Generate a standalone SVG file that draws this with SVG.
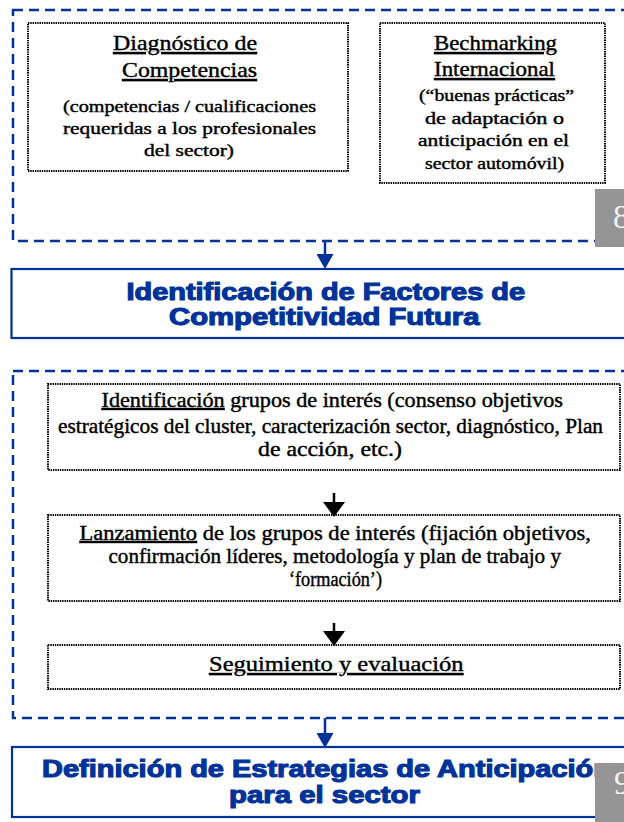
<svg xmlns="http://www.w3.org/2000/svg" width="624" height="822" viewBox="0 0 624 822">
<style>
.dash{fill:none;stroke:#003399;stroke-width:2.5;stroke-dasharray:10 6}
.dot{fill:#fff;stroke:#000;stroke-width:2;stroke-dasharray:1.4 0.9}
.solid{fill:#fff;stroke:#003399;stroke-width:2.2}
.ser{font-family:'Liberation Serif','Times New Roman',serif;fill:#000;stroke:#000;stroke-width:0.4}
.t{font-size:21px}
.t2{font-size:20px}
.b1{font-size:16.5px}
.b2{font-size:16px}
.u{text-decoration:underline}
.head{font-family:'Liberation Sans',Arial,sans-serif;font-weight:bold;font-size:23px;fill:#003399;stroke:#003399;stroke-width:1.1}
.badge{fill:#959595}
.num{font-family:'Liberation Serif','Times New Roman',serif;font-size:33px;fill:#f2f2f2}
.cb{stroke:#003399;stroke-width:2.5}
.ck{stroke:#000;stroke-width:2.5}
</style>
<defs>
<marker id="ab" markerUnits="userSpaceOnUse" markerWidth="15" markerHeight="17" refX="0" refY="8.5" orient="auto"><path d="M0,0 L15,8.5 L0,17 Z" fill="#003399"/></marker>
<marker id="ak" markerUnits="userSpaceOnUse" markerWidth="15" markerHeight="22" refX="0" refY="11" orient="auto"><path d="M0,0 L15,11 L0,22 Z" fill="#000"/></marker>
</defs>

<g id="grupo-superior">
<rect class="dash" x="13" y="10" width="700" height="231"/>
</g>

<g id="diagnostico">
<rect class="dot" x="28" y="23" width="320" height="148"/>
<text class="ser t u" x="113" y="50" textLength="144" lengthAdjust="spacingAndGlyphs">Diagnóstico de</text>
<text class="ser t u" x="122" y="77" textLength="135" lengthAdjust="spacingAndGlyphs">Competencias</text>
<text class="ser b1" x="63" y="112" textLength="253" lengthAdjust="spacingAndGlyphs">(competencias / cualificaciones</text>
<text class="ser b1" x="63" y="134" textLength="253" lengthAdjust="spacingAndGlyphs">requeridas a los profesionales</text>
<text class="ser b1" x="144" y="156" textLength="90" lengthAdjust="spacingAndGlyphs">del sector)</text>
</g>

<g id="benchmarking">
<rect class="dot" x="380" y="23" width="225" height="160"/>
<text class="ser t u" x="434" y="50" textLength="123" lengthAdjust="spacingAndGlyphs">Bechmarking</text>
<text class="ser t u" x="434" y="76" textLength="121" lengthAdjust="spacingAndGlyphs">Internacional</text>
<text class="ser b2" x="419" y="101" textLength="155" lengthAdjust="spacingAndGlyphs">(“buenas prácticas”</text>
<text class="ser b2" x="425" y="124" textLength="139" lengthAdjust="spacingAndGlyphs">de adaptación o</text>
<text class="ser b2" x="418" y="146" textLength="151" lengthAdjust="spacingAndGlyphs">anticipación en el</text>
<text class="ser b2" x="425" y="169" textLength="139" lengthAdjust="spacingAndGlyphs">sector automóvil)</text>
</g>

<g id="badge-8">
<rect class="badge" x="595" y="189" width="40" height="58"/>
<text class="num" x="613" y="228">8</text>
</g>

<g id="factores">
<rect class="solid" x="11.5" y="269" width="700" height="69"/>
<text class="head" x="126.5" y="300" textLength="398.5" lengthAdjust="spacingAndGlyphs">Identificación de Factores de</text>
<text class="head" x="169" y="325" textLength="310.5" lengthAdjust="spacingAndGlyphs">Competitividad Futura</text>
</g>

<g id="grupo-intermedio">
<rect class="dash" x="13" y="371" width="700" height="347"/>
</g>

<g id="identificacion">
<rect class="dot" x="48" y="384" width="572" height="86"/>
<text class="ser t2" x="101.5" y="407" textLength="461.5" lengthAdjust="spacingAndGlyphs"><tspan class="u">Identificación</tspan> grupos de interés (consenso objetivos</text>
<text class="ser t2" x="58" y="433" textLength="545" lengthAdjust="spacingAndGlyphs">estratégicos del cluster, caracterización sector, diagnóstico, Plan</text>
<text class="ser t2" x="258" y="456" textLength="144" lengthAdjust="spacingAndGlyphs">de acción, etc.)</text>
</g>

<g id="lanzamiento">
<rect class="dot" x="48" y="515" width="572" height="86"/>
<text class="ser t2" x="79.5" y="540" textLength="511.5" lengthAdjust="spacingAndGlyphs"><tspan class="u">Lanzamiento</tspan> de los grupos de interés (fijación objetivos,</text>
<text class="ser t2" x="108.5" y="563" textLength="452.5" lengthAdjust="spacingAndGlyphs">confirmación líderes, metodología y plan de trabajo y</text>
<text class="ser t2" x="289" y="586" textLength="93" lengthAdjust="spacingAndGlyphs">‘formación’)</text>
</g>

<g id="seguimiento">
<rect class="dot" x="48" y="645" width="572" height="44"/>
<text class="ser t u" x="209" y="671" textLength="254.5" lengthAdjust="spacingAndGlyphs">Seguimiento y evaluación</text>
</g>

<g id="definicion">
<rect class="solid" x="12" y="747" width="700" height="70"/>
<text class="head" x="42" y="777" textLength="569" lengthAdjust="spacingAndGlyphs">Definición de Estrategias de Anticipación</text>
<text class="head" x="229" y="803" textLength="191" lengthAdjust="spacingAndGlyphs">para el sector</text>
</g>

<g id="badge-9">
<rect class="badge" x="595" y="763" width="40" height="70"/>
<text class="num" x="614" y="794">9</text>
</g>

<g id="conectores">
<line class="cb" x1="325" y1="241" x2="325" y2="254" marker-end="url(#ab)"/>
<line class="ck" x1="334" y1="493" x2="334" y2="502" marker-end="url(#ak)"/>
<line class="ck" x1="334" y1="623" x2="334" y2="631" marker-end="url(#ak)"/>
<line class="cb" x1="325" y1="718" x2="325" y2="733" marker-end="url(#ab)"/>
</g>
</svg>
